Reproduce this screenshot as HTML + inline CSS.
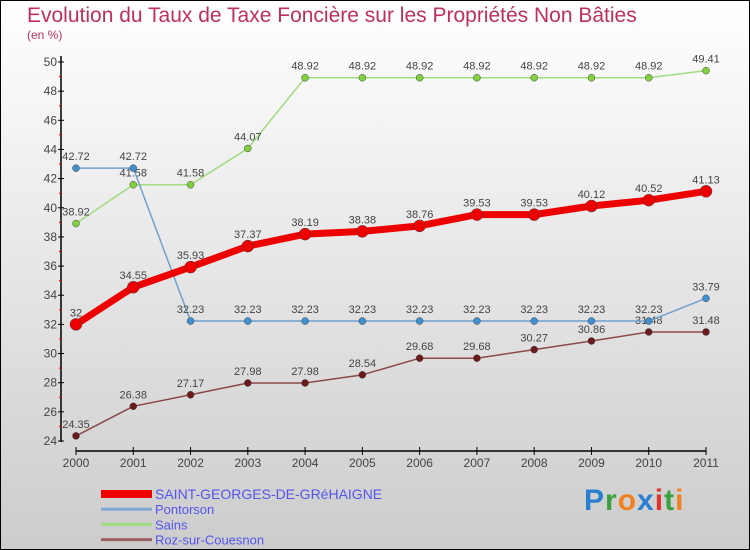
<!DOCTYPE html>
<html><head><meta charset="utf-8"><style>
html,body{margin:0;padding:0}
body{width:750px;height:550px;overflow:hidden;font-family:"Liberation Sans",sans-serif}
#wrap{position:relative;width:748px;height:548px;border:1px solid #000;background:linear-gradient(#fff,#ccc)}
.t{position:absolute;color:#c0305a}
</style></head><body>
<div id="wrap">
<div class="t" style="left:26px;top:3px;font-size:21px">Evolution du Taux de Taxe Foncière sur les Propriétés Non Bâties</div>
<div class="t" style="left:26px;top:27px;font-size:12px">(en %)</div>
<svg id="c" width="748" height="548" style="position:absolute;left:0;top:0"></svg>
<div style="position:absolute;left:583px;top:483px;font-size:30px;font-weight:bold;letter-spacing:1px"><span style="color:#2a7fd0">P</span><span style="color:#3aa040">r</span><span style="color:#f08020">o</span><span style="color:#2a7fd0">x</span><span style="color:#e03030">i</span><span style="color:#3aa040">t</span><span style="color:#f08020">i</span></div>
</div>
<script>
const years=[2000,2001,2002,2003,2004,2005,2006,2007,2008,2009,2010,2011];
const saint=[32,34.55,35.93,37.37,38.19,38.38,38.76,39.53,39.53,40.12,40.52,41.13];
const pontorson=[42.72,42.72,32.23,32.23,32.23,32.23,32.23,32.23,32.23,32.23,32.23,33.79];
const sains=[38.92,41.58,41.58,44.07,48.92,48.92,48.92,48.92,48.92,48.92,48.92,49.41];
const roz=[24.35,26.38,27.17,27.98,27.98,28.54,29.68,29.68,30.27,30.86,31.48,31.48];
const yTicks=[24,26,28,30,32,34,36,38,40,42,44,46,48,50];
const names=["SAINT-GEORGES-DE-GRéHAIGNE","Pontorson","Sains","Roz-sur-Couesnon"];
const svg=document.getElementById('c');const NS='http://www.w3.org/2000/svg';
function x(i){return 75+i*(630/11);}
function y(v){return 440-(v-24)*(379/26);}
function mk(t,a,p){const e=document.createElementNS(NS,t);for(const k in a)e.setAttribute(k,a[k]);(p||svg).appendChild(e);return e;}
let e;
e=mk('line',{x1:60,y1:55,x2:60,y2:441,stroke:'#000','stroke-width':1.5});


e=mk('line',{x1:75,y1:450,x2:705,y2:450,stroke:'#000','stroke-width':1.5});


yTicks.forEach((v,k)=>{mk('line',{x1:57,x2:63,y1:y(v),y2:y(v),stroke:'#000'});
 if(k<yTicks.length-1)mk('line',{x1:58,x2:61,y1:y(v+1),y2:y(v+1),stroke:'#d00'});
 e=mk('text',{x:56,y:y(v)+4,'text-anchor':'end','font-size':12,fill:'#444'});e.textContent=v;
 
 });
years.forEach((yr,i)=>{mk('line',{x1:x(i),x2:x(i),y1:446,y2:454,stroke:'#000'});
 e=mk('text',{x:x(i),y:466,'text-anchor':'middle','font-size':12,fill:'#444'});e.textContent=yr;
 
 });
function series(d,col,w,r,dot,nm){
 const g=mk('g',{});
 
 
 mk('polyline',{points:d.map((v,i)=>x(i)+','+y(v)).join(' '),fill:'none',stroke:col,'stroke-width':w,'stroke-linejoin':'round'},g);
 d.forEach((v,i)=>{mk('circle',{cx:x(i),cy:y(v),r:r,fill:dot,stroke:'#444','stroke-width':0.5},g);
  const t=mk('text',{x:x(i),y:y(v)-8,'text-anchor':'middle','font-size':11,fill:'#444'},g);t.textContent=v;});
}
series(roz,'#8a4a4a',1.5,3.5,'#6a1a1a','series-roz-sur-couesnon');
series(sains,'#a0dc80',1.5,3.5,'#80d040','series-sains');
series(pontorson,'#70a0d0',1.5,3.5,'#4090d0','series-pontorson');
series(saint,'#ee0000',7,6,'#ee0000','series-saint-georges');
const lc=['#ee0000','#80a8d0','#a0dc80','#9a6060'],lw=[8,3,3,3];
names.forEach((n,k)=>{const yy=493+k*15.2;
 e=mk('line',{x1:100,x2:151,y1:yy,y2:yy,stroke:lc[k],'stroke-width':lw[k]});
 
 
 e=mk('text',{x:154,y:yy+5,'font-size':k==0?14:13,fill:'#5555ee'});e.textContent=n;
 
 });
</script>
</body></html>
